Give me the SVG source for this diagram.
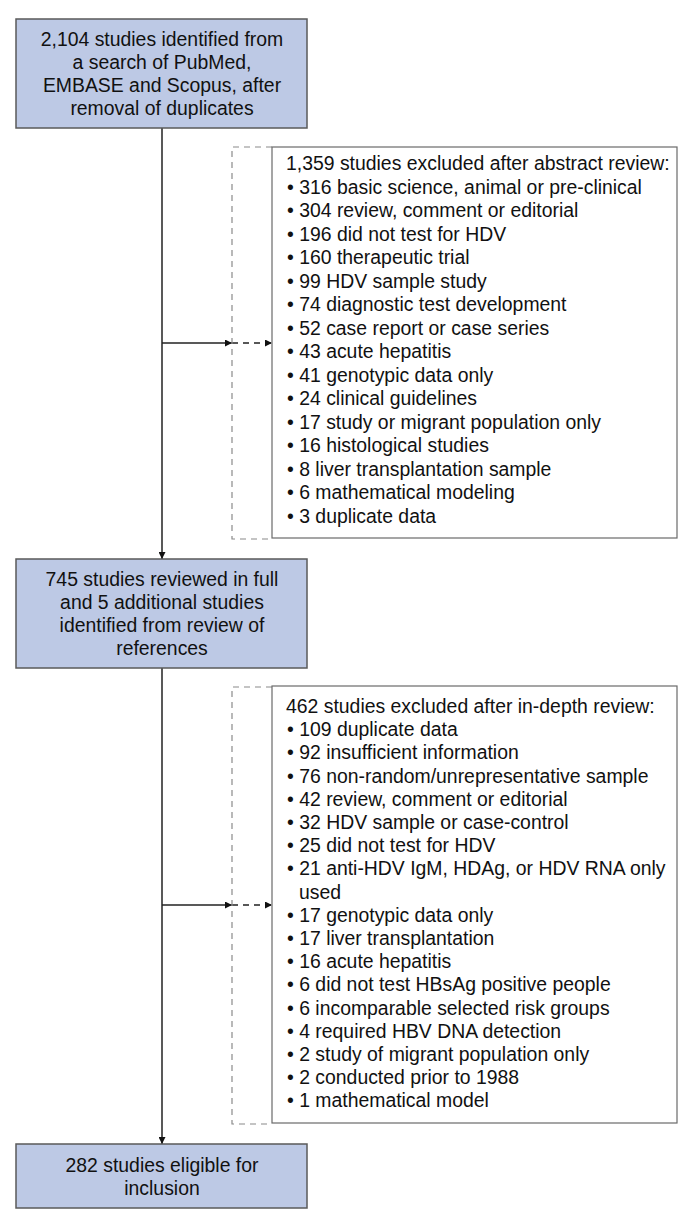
<svg xmlns="http://www.w3.org/2000/svg" width="692" height="1229" viewBox="0 0 692 1229">
<defs>
<style>
text{font-family:"Liberation Sans",Arial,sans-serif;font-size:19.4px;fill:#111}
.c{text-anchor:middle}
.box{fill:#bdc9e5;stroke:#5a5a5a;stroke-width:1.5}
.list{fill:#fff;stroke:#6a6a6a;stroke-width:1.2}
.brk{fill:none;stroke:#8a8a8a;stroke-width:1.2;stroke-dasharray:6,5}
.ln{fill:none;stroke:#222;stroke-width:1.5}
.dl{fill:none;stroke:#222;stroke-width:1.5;stroke-dasharray:6,5}
</style>
<marker id="ah" viewBox="0 0 10 10" refX="10" refY="5" markerWidth="10" markerHeight="7" markerUnits="userSpaceOnUse" orient="auto">
<path d="M0,0 L10,5 L0,10 z" fill="#111"/>
</marker>
</defs>
<rect width="692" height="1229" fill="#fff"/>
<g id="connectors">
<line class="ln" x1="162" y1="128" x2="162" y2="559" marker-end="url(#ah)"/>
<line class="ln" x1="162" y1="668" x2="162" y2="1144" marker-end="url(#ah)"/>
<line class="ln" x1="162" y1="343" x2="232" y2="343" marker-end="url(#ah)"/>
<line class="dl" x1="232" y1="343" x2="272" y2="343" marker-end="url(#ah)"/>
<line class="ln" x1="162" y1="905" x2="232" y2="905" marker-end="url(#ah)"/>
<line class="dl" x1="232" y1="905" x2="272" y2="905" marker-end="url(#ah)"/>
<path class="brk" d="M272,147 H232 V539 H272"/>
<path class="brk" d="M272,687 H232 V1124 H272"/>
</g>
<g id="n1">
<rect class="box" x="16" y="19" width="291" height="109"/>
<text class="c" x="162" y="46">2,104 studies identified from</text>
<text class="c" x="162" y="69">a search of PubMed,</text>
<text class="c" x="162" y="92">EMBASE and Scopus, after</text>
<text class="c" x="162" y="115">removal of duplicates</text>
</g>
<g id="n2">
<rect class="list" x="272" y="147" width="405" height="391"/>
<text x="286" y="170">1,359 studies excluded after abstract review:</text>
<text x="287" y="193.5">• 316 basic science, animal or pre-clinical</text>
<text x="287" y="217">• 304 review, comment or editorial</text>
<text x="287" y="240.5">• 196 did not test for HDV</text>
<text x="287" y="264">• 160 therapeutic trial</text>
<text x="287" y="287.5">• 99 HDV sample study</text>
<text x="287" y="311">• 74 diagnostic test development</text>
<text x="287" y="334.5">• 52 case report or case series</text>
<text x="287" y="358">• 43 acute hepatitis</text>
<text x="287" y="381.5">• 41 genotypic data only</text>
<text x="287" y="405">• 24 clinical guidelines</text>
<text x="287" y="428.5">• 17 study or migrant population only</text>
<text x="287" y="452">• 16 histological studies</text>
<text x="287" y="475.5">• 8 liver transplantation sample</text>
<text x="287" y="499">• 6 mathematical modeling</text>
<text x="287" y="522.5">• 3 duplicate data</text>
</g>
<g id="n3">
<rect class="box" x="16" y="559" width="291" height="109"/>
<text class="c" x="162" y="586">745 studies reviewed in full</text>
<text class="c" x="162" y="609">and 5 additional studies</text>
<text class="c" x="162" y="632">identified from review of</text>
<text class="c" x="162" y="655">references</text>
</g>
<g id="n4">
<rect class="list" x="272" y="686" width="405" height="437"/>
<text x="286" y="713">462 studies excluded after in-depth review:</text>
<text x="287" y="736.2">• 109 duplicate data</text>
<text x="287" y="759.4">• 92 insufficient information</text>
<text x="287" y="782.6">• 76 non-random/unrepresentative sample</text>
<text x="287" y="805.8">• 42 review, comment or editorial</text>
<text x="287" y="829">• 32 HDV sample or case-control</text>
<text x="287" y="852.2">• 25 did not test for HDV</text>
<text x="287" y="875.4">• 21 anti-HDV IgM, HDAg, or HDV RNA only</text>
<text x="299" y="898.6">used</text>
<text x="287" y="921.8">• 17 genotypic data only</text>
<text x="287" y="945">• 17 liver transplantation</text>
<text x="287" y="968.2">• 16 acute hepatitis</text>
<text x="287" y="991.4">• 6 did not test HBsAg positive people</text>
<text x="287" y="1014.6">• 6 incomparable selected risk groups</text>
<text x="287" y="1037.8">• 4 required HBV DNA detection</text>
<text x="287" y="1061">• 2 study of migrant population only</text>
<text x="287" y="1084.2">• 2 conducted prior to 1988</text>
<text x="287" y="1107.4">• 1 mathematical model</text>
</g>
<g id="n5">
<rect class="box" x="16" y="1144" width="291" height="64"/>
<text class="c" x="162" y="1172">282 studies eligible for</text>
<text class="c" x="162" y="1195">inclusion</text>
</g>
</svg>
